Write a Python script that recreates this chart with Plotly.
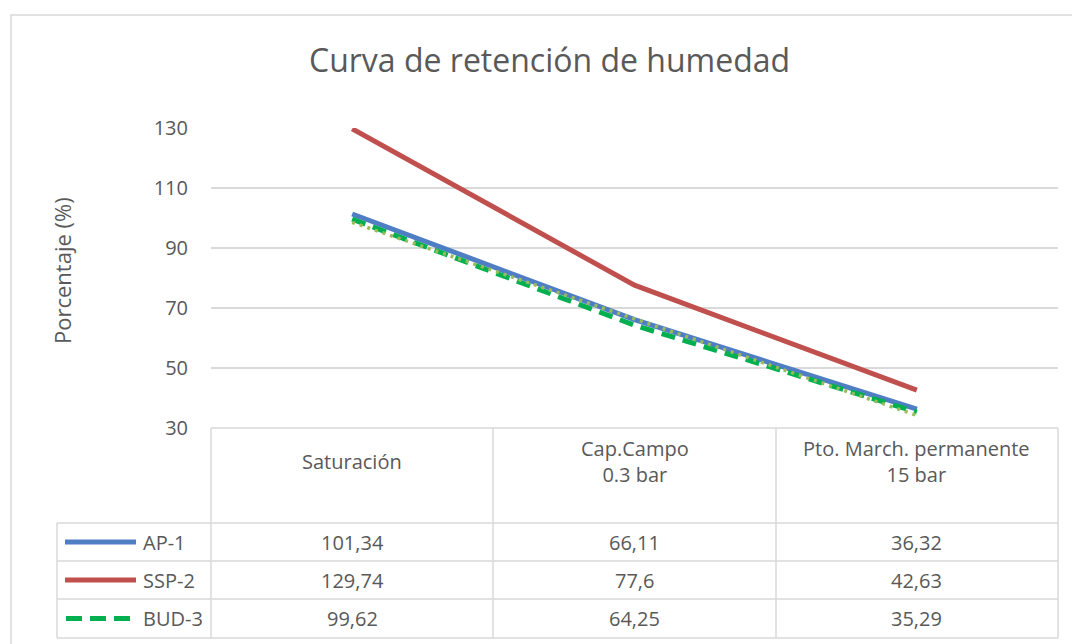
import numpy as np
import plotly.graph_objects as go

# ---- data ----
categories = ["Saturación", "Cap.Campo<br>0.3 bar", "Pto. March. permanente<br>15 bar"]
series_names = ["AP-1", "SSP-2", "BUD-3"]
ap1 = [101.34, 66.11, 36.32]
ssp2 = [129.74, 77.6, 42.63]
bud3 = [99.62, 64.25, 35.29]
table_text = {
    "AP-1": ["101,34", "66,11", "36,32"],
    "SSP-2": ["129,74", "77,6", "42,63"],
    "BUD-3": ["99,62", "64,25", "35,29"],
}
y_ticks = [30, 50, 70, 90, 110, 130]

# ---- style ----
W, H = 1072, 644
FONT = "Open Sans"
GRAY = "#595959"
GRID = "#D9D9D9"
colors = {"AP-1": "#4F7EC5", "SSP-2": "#C0504D", "BUD-3": "#00B050"}
TREND = "#9BBB59"

def px(x):
    return x / W

def py(y):
    return 1 - y / H

x_left, x_right = 211, 1058
y_top, y_bot = 128, 428
col_edges = [211, 493, 776, 1058]
row_edges = [523, 561, 599, 638]
tab_left = 57

xs = list(range(len(categories)))

fig = go.Figure()
fig.add_trace(go.Scatter(x=xs, y=ap1, mode="lines", name="AP-1",
                         line=dict(color=colors["AP-1"], width=5)))
fig.add_trace(go.Scatter(x=xs, y=ssp2, mode="lines", name="SSP-2",
                         line=dict(color=colors["SSP-2"], width=5)))
fig.add_trace(go.Scatter(x=xs, y=bud3, mode="lines", name="BUD-3",
                         line=dict(color=colors["BUD-3"], width=5, dash="14px,8px")))
# linear trendline of BUD-3 (least squares, as in the spreadsheet)
coef = np.polyfit(np.arange(1, 4), bud3, 1)
trend = list(np.polyval(coef, np.arange(1, 4)))
fig.add_trace(go.Scatter(x=xs, y=trend, mode="lines", name="Lineal (BUD-3)",
                         line=dict(color=TREND, width=3.5, dash="3px,5px")))

shapes = []
# outer chart border
shapes.append(dict(type="rect", xref="paper", yref="paper",
                   x0=px(11), x1=px(1090), y0=py(660), y1=py(15),
                   line=dict(color=GRID, width=1.5)))
# table grid
line_style = dict(color=GRID, width=1.5)
shapes.append(dict(type="line", xref="paper", yref="paper", x0=px(x_left), x1=px(x_right),
                   y0=py(y_bot), y1=py(y_bot), line=line_style))
for ry in row_edges:
    shapes.append(dict(type="line", xref="paper", yref="paper", x0=px(tab_left), x1=px(x_right),
                       y0=py(ry), y1=py(ry), line=line_style))
for cx in col_edges:
    shapes.append(dict(type="line", xref="paper", yref="paper", x0=px(cx), x1=px(cx),
                       y0=py(y_bot), y1=py(row_edges[-1]), line=line_style))
shapes.append(dict(type="line", xref="paper", yref="paper", x0=px(tab_left), x1=px(tab_left),
                   y0=py(row_edges[0]), y1=py(row_edges[-1]), line=line_style))

TXT = 20
annotations = []
# title
annotations.append(dict(text="Curva de retención de humedad", xref="paper", yref="paper",
                        x=px(549), y=py(60), showarrow=False, xanchor="center", yanchor="middle",
                        font=dict(family=FONT, size=32, color=GRAY)))
# y title
annotations.append(dict(text="Porcentaje (%)", xref="paper", yref="paper",
                        x=px(62), y=py(271), showarrow=False, textangle=-90,
                        xanchor="center", yanchor="middle",
                        font=dict(family=FONT, size=22, color=GRAY)))
# header categories
for i, c in enumerate(categories):
    annotations.append(dict(text=c, x=i, xref="x", yref="paper", y=py(461),
                            showarrow=False, xanchor="center", yanchor="middle",
                            font=dict(family=FONT, size=TXT, color=GRAY)))
# table rows
for r, name in enumerate(series_names):
    yc = (row_edges[r] + row_edges[r + 1]) / 2
    annotations.append(dict(text=name, xref="paper", yref="paper", x=px(141), y=py(yc),
                            showarrow=False, xanchor="left", yanchor="middle",
                            font=dict(family=FONT, size=TXT, color=GRAY)))
    for i, v in enumerate(table_text[name]):
        annotations.append(dict(text=v, x=i, xref="x", yref="paper", y=py(yc),
                                showarrow=False, xanchor="center", yanchor="middle",
                                font=dict(family=FONT, size=TXT, color=GRAY)))
    if name == "BUD-3":
        for k in range(3):
            x0 = 66 + k * 24
            shapes.append(dict(type="line", xref="paper", yref="paper",
                               x0=px(x0), x1=px(x0 + 16), y0=py(yc), y1=py(yc),
                               line=dict(color=colors[name], width=5)))
    else:
        shapes.append(dict(type="line", xref="paper", yref="paper",
                           x0=px(65), x1=px(136), y0=py(yc), y1=py(yc),
                           line=dict(color=colors[name], width=5)))

fig.update_layout(
    width=W, height=H,
    autosize=False,
    margin=dict(l=0, r=0, t=0, b=0, pad=0, autoexpand=False),
    paper_bgcolor="white", plot_bgcolor="white",
    showlegend=False,
    xaxis=dict(domain=[px(x_left), px(x_right)], range=[-0.5, 2.5], automargin=False,
               tickvals=xs, showticklabels=False, showgrid=False, zeroline=False,
               showline=False),
    yaxis=dict(domain=[py(y_bot), py(y_top)], range=[30, 130], tickvals=y_ticks,
               automargin=False,
               showgrid=True, gridcolor=GRID, gridwidth=1.5, zeroline=False, showline=False,
               ticks="", ticklabelstandoff=22,
               tickfont=dict(family=FONT, size=20, color=GRAY)),
    shapes=shapes,
    annotations=annotations,
)

fig.write_html("out.html", config={"responsive": False, "displayModeBar": False},
               post_script="document.body.style.margin='0';document.body.style.overflow='hidden';")
